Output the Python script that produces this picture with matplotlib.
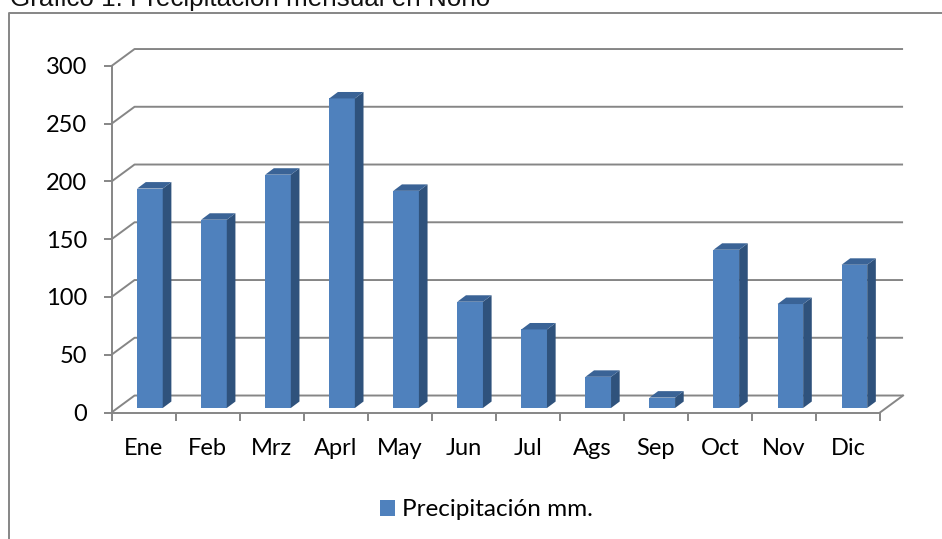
import matplotlib
matplotlib.use("Agg")
import matplotlib.pyplot as plt
from matplotlib.patches import Polygon

meses = ["Ene", "Feb", "Mrz", "Aprl", "May", "Jun", "Jul", "Ags", "Sep", "Oct", "Nov", "Dic"]
precipitacion = [190, 163, 202, 268, 188, 92, 68, 27, 9, 137, 90, 124]
ticks_y = [0, 50, 100, 150, 200, 250, 300]

W, H = 942, 539
GRIS = "#868686"
FRENTE = "#4f81bd"
LADO = "#2f527c"
TOPE = "#3a6396"
LW = 1.4

# fondo del grafico 3D, en unidades de datos
dx_fondo, dy_fondo = 0.36, 14.7
dx_barra, dy_barra = 0.135, 5.6
ancho = 0.4
x_ini, y_ini = 0.1, 3.9

fig = plt.figure(figsize=(W / 100, H / 100), dpi=100)
ax = fig.add_axes([111.5 / W, 1 - 412.5 / H, (880 - 111.5) / W, (412.5 - 66) / H])
ax.set_xlim(0, 12)
ax.set_ylim(0, 300)
ax.patch.set_visible(False)
for s in ax.spines.values():
    s.set_visible(False)
for lado in ["left", "bottom"]:
    ax.spines[lado].set_visible(True)
    ax.spines[lado].set_color(GRIS)
    ax.spines[lado].set_linewidth(LW)

# lineas de rejilla en perspectiva
for v in ticks_y:
    ax.plot([0, dx_fondo, 12 + dx_fondo], [v, v + dy_fondo, v + dy_fondo],
            color=GRIS, lw=LW, clip_on=False, zorder=1, solid_capstyle="butt")
ax.plot([12, 12 + dx_fondo], [0, dy_fondo], color=GRIS, lw=LW, clip_on=False, zorder=1)

# barras: frente, lado y tope
for i, v in enumerate(precipitacion):
    x0 = i + 0.5 - ancho / 2 + x_ini
    x1 = x0 + ancho
    alto = v + y_ini
    ax.bar(x0 + ancho / 2, v, ancho, bottom=y_ini, color=FRENTE, zorder=3, clip_on=False)
    ax.add_patch(Polygon([(x1, y_ini), (x1 + dx_barra, y_ini + dy_barra),
                          (x1 + dx_barra, alto + dy_barra), (x1, alto)],
                         closed=True, fc=LADO, ec="none", zorder=3, clip_on=False))
    ax.add_patch(Polygon([(x0, alto), (x1, alto), (x1 + dx_barra, alto + dy_barra), (x0 + dx_barra, alto + dy_barra)],
                         closed=True, fc=TOPE, ec="none", zorder=3, clip_on=False))

ax.set_yticks(ticks_y)
ax.set_xticks(range(13))
ax.set_xticklabels([])
ax.tick_params(axis="both", length=5.8, width=LW, color=GRIS, labelcolor="black")
ax.tick_params(axis="y", labelsize=17, pad=11.5)
for lab in ax.get_yticklabels():
    lab.set_family("Lato")

for i, m in enumerate(meses):
    ax.annotate(m, (i + 0.5, 0), xytext=(0, -36), textcoords="offset pixels",
                ha="center", va="center", fontsize=17, family="Lato")

# marco del grafico y titulo cortado arriba
fig.add_artist(plt.Line2D([8.7 / W, 8.7 / W, 1], [0, 1 - 13 / H, 1 - 13 / H],
                          color=GRIS, lw=LW, transform=fig.transFigure))
fig.text(10 / W, 1 - 6 / H, "Gráfico 1. Precipitación mensual en Noño",
         fontsize=18.7, family="Liberation Sans", ha="left", va="baseline", color="#111111")

# leyenda
leg = ax.legend(handles=[plt.Rectangle((0, 0), 1, 1, fc=FRENTE)], labels=["Precipitación mm."],
                loc="center", bbox_to_anchor=(486.5 / W, 1 - 510 / H), bbox_transform=fig.transFigure,
                frameon=False, handlelength=0.62, handleheight=0.62, handletextpad=0.3,
                prop={"family": "Lato", "size": 17.5})

fig.savefig("out.png", dpi=100, facecolor="white")
